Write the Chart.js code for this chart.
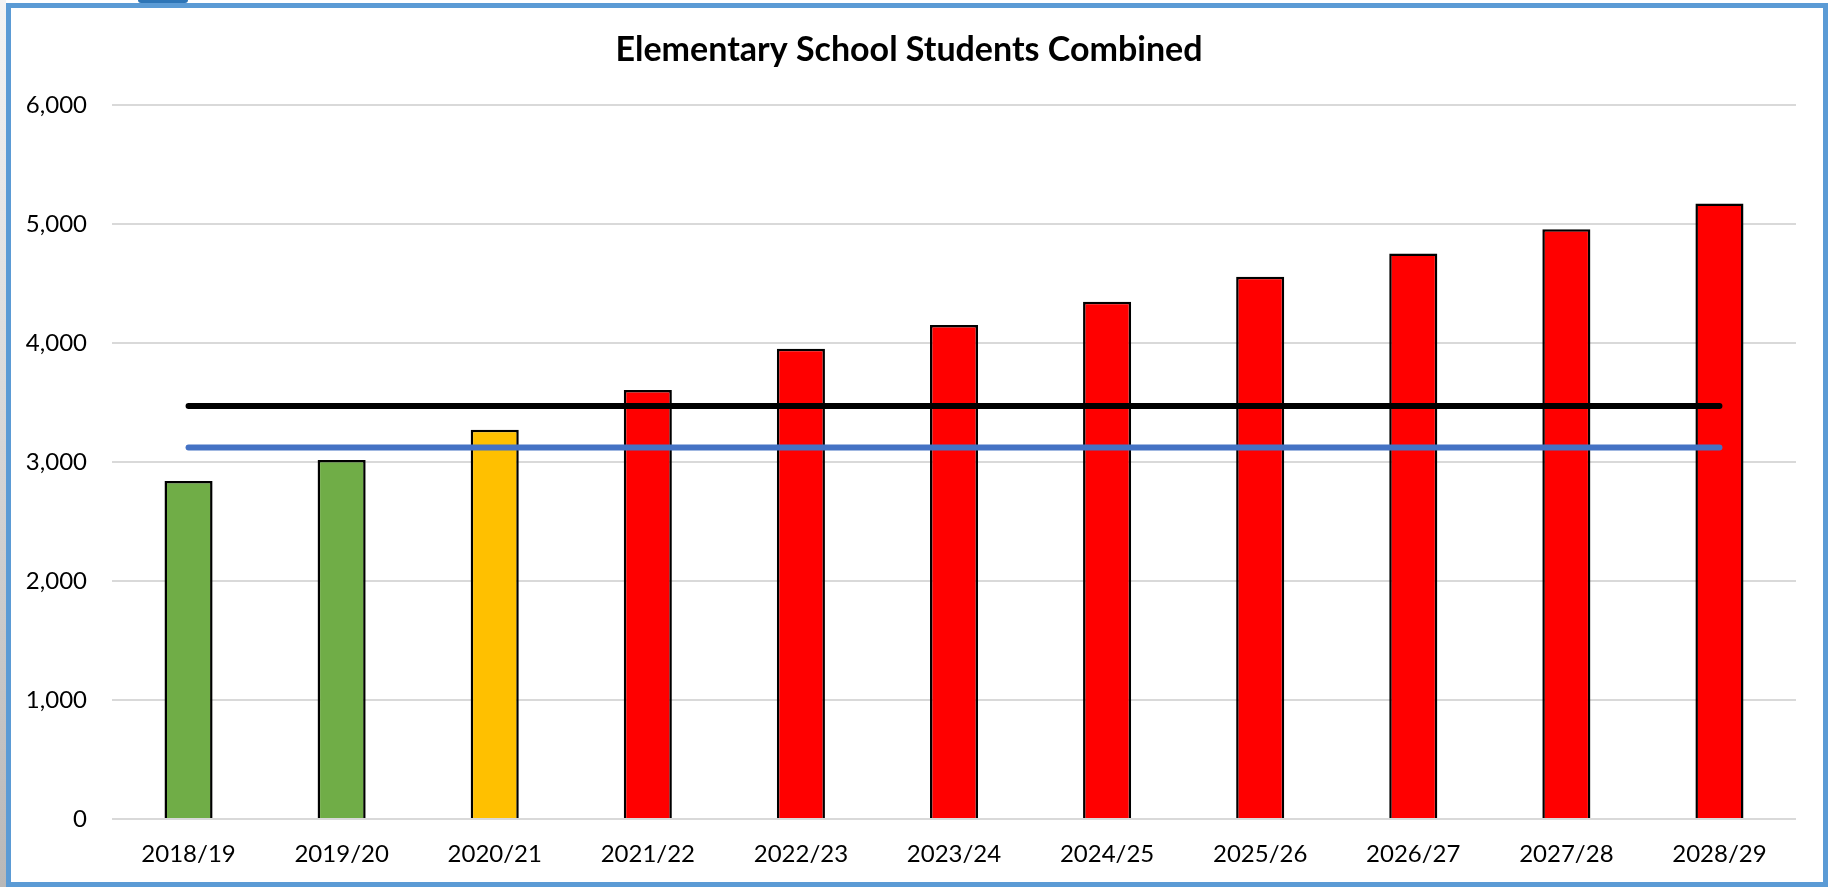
<!DOCTYPE html>
<html>
<head>
<meta charset="utf-8">
<title>Elementary School Students Combined</title>
<script src="https://cdn.jsdelivr.net/npm/chart.js@4.4.0/dist/chart.umd.min.js"></script>
<style>
    html, body { margin: 0; padding: 0; background: #fff; overflow: hidden; }
    #wrap { position: relative; width: 1833px; height: 887px; }
    #chart { position: absolute; left: 0; top: 0; }
    #frame {
        position: absolute; left: 6px; top: 3px; width: 1822px; height: 884px;
        box-sizing: border-box; border: 5px solid #5b9bd5; pointer-events: none;
    }
    #edge {
        position: absolute; left: 0; top: 0; width: 6px; height: 887px;
        background: linear-gradient(#f4f4f4, #b8b8b8);
    }
    #tab {
        position: absolute; left: 138px; top: 0; width: 50px; height: 3px;
        background: #2e75b6; border-radius: 0 0 3px 3px;
    }
</style>
</head>
<body>
<div id="wrap">
    <canvas id="chart" width="1833" height="887"></canvas>
    <div id="edge"></div>
    <div id="frame"></div>
    <div id="tab"></div>
</div>
<script>
const years = ['2018/19', '2019/20', '2020/21', '2021/22', '2022/23', '2023/24',
    '2024/25', '2025/26', '2026/27', '2027/28', '2028/29'];
const students = [2840, 3015, 3270, 3605, 3950, 4150, 4345, 4555, 4750, 4955, 5170];
const barColors = ['#70ad47', '#70ad47', '#ffc000', '#ff0000', '#ff0000', '#ff0000',
    '#ff0000', '#ff0000', '#ff0000', '#ff0000', '#ff0000'];
const capacityLine = [3470, 3470, 3470, 3470, 3470, 3470, 3470, 3470, 3470, 3470, 3470];
const otherLine = [3120, 3120, 3120, 3120, 3120, 3120, 3120, 3120, 3120, 3120, 3120];
const yTicks = [0, 1000, 2000, 3000, 4000, 5000, 6000];

const font = 'Lato, "Open Sans", sans-serif';

new Chart(document.getElementById('chart'), {
    data: {
        labels: years,
        datasets: [
            {
                type: 'line',
                data: capacityLine,
                borderColor: '#000000',
                borderWidth: 6,
                borderCapStyle: 'round',
                pointRadius: 0,
                fill: false,
                order: 0
            },
            {
                type: 'line',
                data: otherLine,
                borderColor: '#4472c4',
                borderWidth: 6,
                borderCapStyle: 'round',
                pointRadius: 0,
                fill: false,
                order: 0
            },
            {
                type: 'bar',
                data: students,
                backgroundColor: barColors,
                borderColor: '#000000',
                borderWidth: 2.5,
                categoryPercentage: 1,
                barPercentage: 0.314,
                order: 1
            }
        ]
    },
    options: {
        responsive: false,
        animation: false,
        layout: { padding: { left: 22, right: 37, top: 0, bottom: 0 } },
        plugins: {
            legend: { display: false },
            tooltip: { enabled: false },
            title: {
                display: true,
                text: 'Elementary School Students Combined',
                color: '#000',
                font: { family: font, size: 34, weight: 'bold' },
                padding: { top: 30, bottom: 34 }
            }
        },
        scales: {
            x: {
                offset: true,
                afterFit: function (scale) { scale.height = 68; },
                grid: { display: false, drawTicks: false },
                border: { display: false },
                ticks: {
                    color: '#000',
                    font: { family: font, size: 24 },
                    padding: 21,
                    maxRotation: 0
                }
            },
            y: {
                min: 0,
                max: 6000,
                afterFit: function (scale) { scale.width = 90; },
                afterBuildTicks: function (scale) {
                    scale.ticks = yTicks.map(v => ({ value: v }));
                },
                grid: { color: '#d9d9d9', lineWidth: 2, drawTicks: false },
                border: { display: false },
                ticks: {
                    color: '#000',
                    font: { family: font, size: 24 },
                    padding: 25,
                    callback: v => v.toLocaleString('en-US')
                }
            }
        }
    }
});
</script>
</body>
</html>
